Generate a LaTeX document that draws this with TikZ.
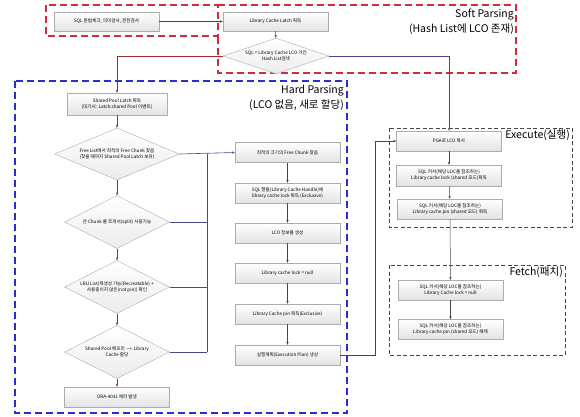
\documentclass[tikz,border=0pt]{standalone}
\usepackage{fontspec}
\setmainfont{Noto Sans CJK KR}
\usetikzlibrary{calc,shapes.geometric,shadows,arrows.meta}
\definecolor{softred}{RGB}{205,45,60}
\definecolor{hardblue}{RGB}{45,45,205}
\definecolor{redline}{RGB}{160,40,50}
\definecolor{navyline}{RGB}{70,70,150}
\definecolor{darkline}{RGB}{70,70,70}

\begin{document}
\begin{tikzpicture}[x=1pt, y=-1pt,
		stepbox/.style={draw=gray!65, top color=white, bottom color=gray!22,
			drop shadow={shadow xshift=0.8pt, shadow yshift=-0.8pt, opacity=0.25},
			minimum width=105pt, minimum height=20pt, inner sep=1pt,
			align=center, font=\fontsize{4.6}{5.8}\selectfont},
		choice/.style={diamond, draw=gray!65, top color=white, bottom color=gray!15,
			inner sep=0pt, aspect=2.4, align=center, font=\fontsize{4.6}{5.8}\selectfont},
		phase/.style={anchor=north east, align=right, inner sep=0pt,
			font=\fontsize{10.5}{15}\selectfont},
		redarrow/.style={-{Stealth[length=3pt,width=2.4pt]}, draw=redline, line width=0.5pt},
		bluearrow/.style={-{Stealth[length=3pt,width=2.4pt]}, draw=navyline, line width=0.6pt},
		bluewire/.style={draw=navyline, line width=0.6pt},
		greyarrow/.style={-{Stealth[length=3pt,width=2.4pt]}, draw=darkline, line width=0.5pt}]
		%%%%% START %%%%%
		
		\useasboundingbox (0, 0) rectangle (580, 416);
		
		% frames
		\draw[softred, line width=1.3pt, dash pattern=on 7pt off 4pt] (46, 5) rectangle (218, 36);
		\draw[softred, line width=1.3pt, dash pattern=on 7pt off 4pt] (218, 5) -- (516, 5) -- (516, 73) -- (218, 73) -- (218, 36);
		\draw[hardblue, line width=1.3pt, dash pattern=on 7pt off 4pt] (15, 81) rectangle (347, 413);
		\draw[darkline, line width=0.7pt, dash pattern=on 4pt off 2.5pt] (389, 128) rectangle (572, 227);
		\draw[darkline, line width=0.7pt, dash pattern=on 4pt off 2.5pt] (389, 265) rectangle (565, 355);
		
		\node[phase] (softlbl) at (514, 9) {Soft Parsing\\(Hash List에 LCO 존재)};
		\node[phase] (hardlbl) at (344, 85) {Hard Parsing\\(LCO 없음, 새로 할당)};
		\node[phase] (execlbl) at (570, 130) {Execute(실행)};
		\node[phase] (fetchlbl) at (563, 267) {Fetch(패치)};
		
		% soft parsing
		\node[stepbox, minimum height=19pt] (sqlchk) at (106.5, 21.5) {SQL 문법체크, 의미검사, 권한검사};
		\node[stepbox, minimum height=19pt] (cachelatch) at (275.5, 21.5) {Library Cache Latch 획득};
		\node[choice, minimum width=106pt, minimum height=31pt] (hashsearch) at (276, 56) {SQL = Library Cache LCO 가진\\Hash List검색};
		
		% hard parsing, left column
		\node[stepbox, minimum width=100pt, minimum height=22pt] (poollatch) at (117, 104) {Shared Pool Latch 획득\\(대기시: Latch:shared Pool 이벤트)};
		\node[choice, minimum width=125pt, minimum height=52pt] (freelist) at (117, 154) {Free List에서 최적의 Free Chunk 찾음\\(찾을 때까지 Shared Pool Latch 보유)};
		\node[choice, minimum width=105pt, minimum height=53pt] (split) at (117, 222) {큰 Chunk 를 쪼개서(split) 사용가능};
		\node[choice, minimum width=105pt, minimum height=53pt] (lru) at (117, 287) {LRU List(재생성 가능(Recreatable) +\\사용중이지 않은(not pin)) 확인};
		\node[choice, minimum width=105pt, minimum height=53pt] (alloc) at (117, 352) {Shared Pool 메모리 $\rightarrow$ Library\\Cache 할당};
		\node[stepbox] (ora) at (117, 397) {ORA-4031 에러 발생};
		
		% hard parsing, right column
		\node[stepbox] (bestchunk) at (287.5, 152.5) {최적의 크기의 Free Chunk 찾음};
		\node[stepbox] (handle) at (287.5, 193) {SQL 핸들(Library Cache Handle)에\\library cache lock 획득 (Exclusive)};
		\node[stepbox] (lcoinfo) at (287.5, 233) {LCO 정보를 생성};
		\node[stepbox] (locknull) at (287.5, 273) {Library cache lock = null};
		\node[stepbox] (pinexcl) at (287.5, 314) {Library Cache pin 획득(Exclusive)};
		\node[stepbox] (plan) at (287.5, 355) {실행계획(Execution Plan) 생성};
		
		% execute
		\node[stepbox] (pgacopy) at (449, 141) {PGA로 LCO 복사};
		\node[stepbox, minimum height=21pt] (execlock) at (449, 175.5) {SQL 커서(해당 LOC를 참조하는)\\Library cache lock (shared 모드)획득};
		\node[stepbox] (execpin) at (450, 209) {SQL 커서(해당 LOC를 참조하는)\\Library cache pin (shared 모드) 획득};
		
		% fetch
		\node[stepbox] (fetchlock) at (450.5, 290) {SQL 커서(해당 LOC를 참조하는)\\Library Cache lock = null};
		\node[stepbox] (fetchpin) at (450.5, 329.5) {SQL 커서(해당 LOC를 참조하는)\\Library cache pin (shared 모드) 해제};
		
		\coordinate (bustop) at (207, 154);
		\coordinate (busbot) at (207, 352);
		\coordinate (planturn) at (375, 141);
		
		% connectors
		\draw[greyarrow] (sqlchk) -- (cachelatch);
		\draw[greyarrow] (cachelatch) -- (hashsearch);
		\draw[redarrow] (hashsearch.west) -| (poollatch.north);
		\draw[bluearrow] (hashsearch.east) -| (pgacopy.north);
		
		\draw[redarrow] (poollatch) -- (freelist);
		\draw[redarrow] (freelist) -- (split);
		\draw[redarrow] (split) -- (lru);
		\draw[redarrow] (lru) -- (alloc);
		\draw[redarrow] (alloc) -- (ora);
		
		\draw[bluearrow] (freelist.east) -- (bestchunk.west);
		\draw[bluewire] (busbot) -- (bustop);
		\draw[bluewire] (split.east) -- (split.east -| bustop);
		\draw[bluewire] (lru.east) -- (lru.east -| bustop);
		\draw[bluewire] (alloc.east) -- (busbot);
		
		\draw[greyarrow] (bestchunk) -- (handle);
		\draw[greyarrow] (handle) -- (lcoinfo);
		\draw[greyarrow] (lcoinfo) -- (locknull);
		\draw[greyarrow] (locknull) -- (pinexcl);
		\draw[greyarrow] (pinexcl) -- (plan);
		\draw[greyarrow] (plan.east) -| (planturn) -- (pgacopy.west);
		
		\draw[greyarrow] (pgacopy) -- (execlock);
		\draw[greyarrow] (execlock) -- (execpin);
		\draw[greyarrow] (execpin) -- (fetchlock);
		\draw[greyarrow] (fetchlock) -- (fetchpin);
		
		%%%%% END %%%%%
	\end{tikzpicture}
\end{document}
